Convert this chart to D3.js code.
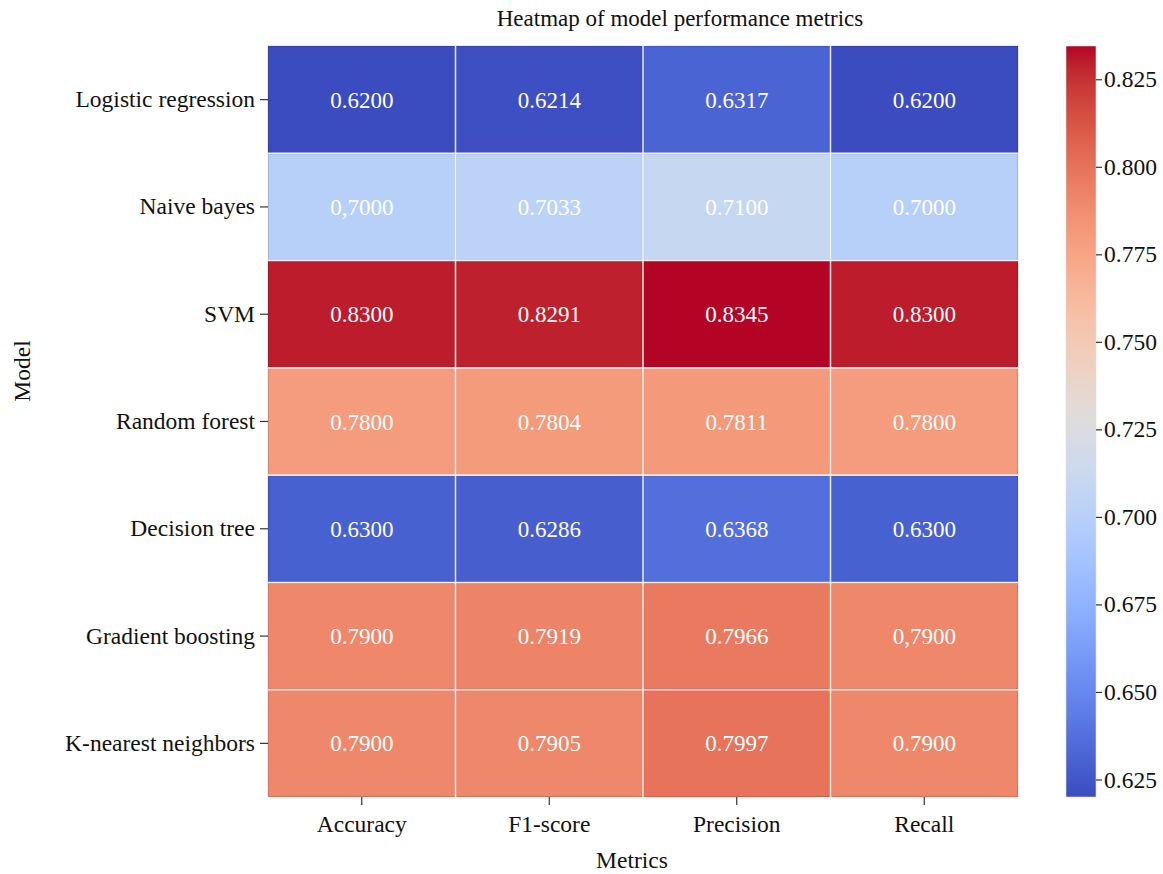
<!DOCTYPE html>
<html>
<head>
<meta charset="utf-8">
<script src="https://cdn.jsdelivr.net/npm/d3@7"></script>
<style>
  html, body { margin: 0; padding: 0; background: #fff; }
  svg { display: block; font-family: "Liberation Serif", "Times New Roman", serif; }
</style>
</head>
<body>
<svg id="chart" width="1163" height="874"></svg>
<script>
// Models (rows) and metrics (columns)
const models = ["Logistic regression", "Naive bayes", "SVM", "Random forest",
                "Decision tree", "Gradient boosting", "K-nearest neighbors"];
const metrics = ["Accuracy", "F1-score", "Precision", "Recall"];

// Annotated cell texts, one row per model (values are parsed from these)
const cellLabels = [
  ["0.6200", "0.6214", "0.6317", "0.6200"],
  ["0,7000", "0.7033", "0.7100", "0.7000"],
  ["0.8300", "0.8291", "0.8345", "0.8300"],
  ["0.7800", "0.7804", "0.7811", "0.7800"],
  ["0.6300", "0.6286", "0.6368", "0.6300"],
  ["0.7900", "0.7919", "0.7966", "0,7900"],
  ["0.7900", "0.7905", "0.7997", "0.7900"]
];
const colorbarTicks = [0.625, 0.650, 0.675, 0.700, 0.725, 0.750, 0.775, 0.800, 0.825];

// Coolwarm colour ramp (Moreland diverging map, 33 stops)
const coolwarmStops = [
  [59,76,192],[68,90,204],[77,104,215],[87,117,225],[98,130,234],[108,142,241],
  [119,154,247],[130,165,251],[141,176,254],[152,185,255],[163,194,255],[174,201,253],
  [184,208,249],[194,213,244],[204,217,238],[213,219,230],[221,221,221],[229,216,209],
  [236,211,197],[241,204,185],[245,196,173],[247,187,160],[247,177,148],[247,166,135],
  [244,154,123],[241,141,111],[236,127,99],[229,112,88],[222,96,77],[213,80,66],
  [203,62,56],[192,40,47],[180,4,38]
];

const data = [];
cellLabels.forEach((row, i) => row.forEach((label, j) => {
  data.push({ model: models[i], metric: metrics[j], label,
              value: parseFloat(label.replace(",", ".")) });
}));
const vmin = d3.min(data, d => d.value);
const vmax = d3.max(data, d => d.value);

// Piecewise-linear interpolation through the coolwarm stops
const coolwarm = t => {
  const n = coolwarmStops.length - 1;
  const xx = Math.max(0, Math.min(1, t)) * n;
  const k = Math.min(n - 1, Math.floor(xx));
  const f = xx - k;
  const a = coolwarmStops[k], b = coolwarmStops[k + 1];
  return d3.rgb(a[0] + (b[0] - a[0]) * f, a[1] + (b[1] - a[1]) * f, a[2] + (b[2] - a[2]) * f).formatHex();
};
const color = d3.scaleSequential(coolwarm).domain([vmin, vmax]);

const FONT = "Liberation Serif, Times New Roman, serif";
const svg = d3.select("#chart");
const grid = { left: 268, right: 1018, top: 46, bottom: 797 };

const x = d3.scaleBand().domain(metrics).range([grid.left, grid.right]);
const y = d3.scaleBand().domain(models).range([grid.top, grid.bottom]);

// Cells
const cells = svg.append("g").selectAll("g").data(data).join("g");
cells.append("rect")
  .attr("x", d => x(d.metric) + 0.5)
  .attr("y", d => y(d.model) + 0.5)
  .attr("width", x.bandwidth() - 1)
  .attr("height", y.bandwidth() - 1)
  .attr("fill", d => color(d.value))
  .attr("stroke", d => d3.color(color(d.value)).darker(0.35))
  .attr("stroke-width", 1.2);

// White separators between cells
const sep = svg.append("g").attr("stroke", "#fff").attr("stroke-opacity", 0.85).attr("stroke-width", 1.6);
metrics.slice(1).forEach(m => sep.append("line")
  .attr("x1", x(m)).attr("x2", x(m)).attr("y1", grid.top).attr("y2", grid.bottom));
models.slice(1).forEach(m => sep.append("line")
  .attr("x1", grid.left).attr("x2", grid.right).attr("y1", y(m)).attr("y2", y(m)));

// Cell annotations
cells.append("text")
  .attr("x", d => x(d.metric) + x.bandwidth() / 2)
  .attr("y", d => y(d.model) + y.bandwidth() / 2)
  .attr("dy", "0.35em")
  .attr("text-anchor", "middle")
  .attr("fill", "#fff")
  .attr("font-size", 23)
  .text(d => d.label);

// Axes
const xAxis = svg.append("g")
  .attr("transform", `translate(0,${grid.bottom})`)
  .call(d3.axisBottom(x).tickSize(8).tickSizeOuter(0).tickPadding(10));
const yAxis = svg.append("g")
  .attr("transform", `translate(${grid.left},0)`)
  .call(d3.axisLeft(y).tickSize(8).tickSizeOuter(0).tickPadding(5));
[xAxis, yAxis].forEach(a => {
  a.select(".domain").remove();
  a.selectAll(".tick line").attr("stroke", "#333").attr("stroke-width", 1.2);
  a.selectAll(".tick text").attr("fill", "#111").attr("font-size", 23.5)
    .attr("font-family", FONT);
});

// Titles
svg.append("text").attr("x", 680).attr("y", 26).attr("text-anchor", "middle")
  .attr("font-size", 23).attr("fill", "#111").text("Heatmap of model performance metrics");
svg.append("text").attr("x", 632).attr("y", 868).attr("text-anchor", "middle")
  .attr("font-size", 23.5).attr("fill", "#111").text("Metrics");
svg.append("text").attr("transform", "translate(30,371) rotate(-90)").attr("text-anchor", "middle")
  .attr("font-size", 23.5).attr("fill", "#111").text("Model");

// Colour bar
const cb = { x: 1066, w: 30 };
const cbScale = d3.scaleLinear().domain([vmin, vmax]).range([grid.bottom, grid.top]);
const defs = svg.append("defs");
const grad = defs.append("linearGradient").attr("id", "cbar")
  .attr("x1", 0).attr("y1", 1).attr("x2", 0).attr("y2", 0);
d3.range(0, 1.0001, 1 / 64).forEach(t => grad.append("stop")
  .attr("offset", t).attr("stop-color", color(vmin + t * (vmax - vmin))));
svg.append("rect").attr("x", cb.x).attr("y", grid.top)
  .attr("width", cb.w).attr("height", grid.bottom - grid.top)
  .attr("fill", "url(#cbar)").attr("stroke", "#ddd").attr("stroke-width", 0.6);
const cbAxis = svg.append("g")
  .attr("transform", `translate(${cb.x + cb.w},0)`)
  .call(d3.axisRight(cbScale).tickValues(colorbarTicks).tickFormat(d3.format(".3f"))
        .tickSize(6).tickSizeOuter(0).tickPadding(2));
cbAxis.select(".domain").remove();
cbAxis.selectAll(".tick line").attr("stroke", "#333").attr("stroke-width", 1.2);
cbAxis.selectAll(".tick text").attr("fill", "#111").attr("font-size", 23.5)
  .attr("font-family", FONT);
</script>
</body>
</html>
